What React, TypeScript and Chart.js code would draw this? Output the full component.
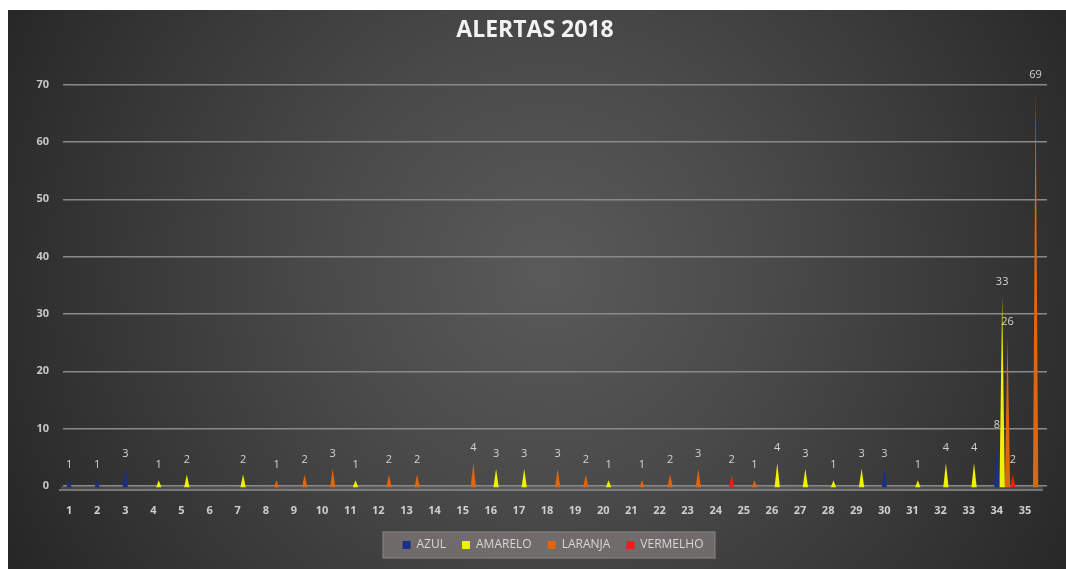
import React, { useEffect, useRef } from "react";
import { Chart, registerables } from "chart.js";

Chart.register(...registerables);

const categories = ["1","2","3","4","5","6","7","8","9","10","11","12","13","14","15","16","17","18","19","20","21","22","23","24","25","26","27","28","29","30","31","32","33","34","35"];

const azul = [1,1,3,null,null,null,null,null,null,null, null,null,null,null,null,null,null,null,null,null, null,null,null,null,null,null,null,null,null,3, null,null,null,8,null];
const amarelo = [null,null,null,1,2,null,2,null,null,null, 1,null,null,null,null,3,3,null,null,1, null,null,null,null,null,4,3,1,3,null, 1,4,4,33,null];
const laranja = [null,null,null,null,null,null,null,1,2,3, null,2,2,null,4,null,null,3,2,null, 1,2,3,null,1,null,null,null,null,null, null,null,null,26,69];
const vermelho = [null,null,null,null,null,null,null,null,null,null, null,null,null,null,null,null,null,null,null,null, null,null,null,2,null,null,null,null,null,null, null,null,null,2,null];

const seriesNames = ["AZUL", "AMARELO", "LARANJA", "VERMELHO"];
const seriesColors = ["#1b2f86", "#f2f200", "#e0650f", "#ee1c1c"];
const yTicks = [0, 10, 20, 30, 40, 50, 60, 70];

const FONT = "'Open Sans', 'Liberation Sans', sans-serif";
const LEGEND_SHIFT = 18;
const LEGEND_PAD = 16;
const LEGEND_FONT = 12;

const legendShiftPlugin = {
  id: "legendShiftPlugin",
  afterLayout(chart: any) {
    const lg = chart.legend;
    if (!lg) return;
    lg.left += LEGEND_SHIFT;
    lg.right += LEGEND_SHIFT;
  },
};

const bgPlugin = {
  id: "bgPlugin",
  beforeDraw(chart: any) {
    const { ctx, width, height } = chart;
    ctx.save();
    const cx = width * 0.51;
    const cy = height * 0.47;
    const g = ctx.createRadialGradient(cx, cy, 0, cx, cy, width * 0.6);
    g.addColorStop(0, "#5a5a5a");
    g.addColorStop(0.35, "#4a4a4a");
    g.addColorStop(0.7, "#363636");
    g.addColorStop(1, "#242424");
    ctx.fillStyle = g;
    ctx.fillRect(0, 0, width, height);
    const lg = chart.legend;
    if (lg && lg.lineWidths && lg.lineWidths.length) {
      const w = lg.lineWidths[0];
      const s = (lg.left + LEGEND_PAD + lg.right - w) / 2;
      const left = s - 20;
      const right = s + w - LEGEND_PAD + 12;
      const cyL = lg.top + LEGEND_PAD + LEGEND_FONT / 2;
      ctx.fillStyle = "rgba(118,112,112,0.9)";
      ctx.fillRect(left, cyL - 13.5, right - left, 27);
      ctx.strokeStyle = "rgba(150,145,145,0.6)";
      ctx.lineWidth = 1;
      ctx.strokeRect(left + 0.5, cyL - 13.5 + 0.5, right - left - 1, 26);
    }
    ctx.restore();
  },
};

const floorPlugin = {
  id: "floorPlugin",
  beforeDatasetsDraw(chart: any) {
    const { ctx, chartArea } = chart;
    const y0 = chart.scales.y.getPixelForValue(0);
    ctx.save();
    ctx.strokeStyle = "#8f8f8f";
    ctx.lineWidth = 1.5;
    ctx.beginPath();
    ctx.moveTo(chartArea.left - 4, y0 + 4);
    ctx.lineTo(chartArea.right - 4, y0 + 4);
    ctx.stroke();
    ctx.fillStyle = "rgba(120,120,120,0.35)";
    ctx.fillRect(chartArea.left - 2, y0, chartArea.right - chartArea.left - 2, 4);
    ctx.restore();
  },
};

const conePlugin = {
  id: "conePlugin",
  beforeDatasetDraw(chart: any, args: any) {
    const { ctx } = chart;
    const meta = args.meta;
    const ds = chart.data.datasets[args.index];
    ctx.save();
    meta.data.forEach((el: any, i: number) => {
      const v = ds.data[i];
      if (v == null || v === 0) return;
      const p = el.getProps(["x", "y", "base", "width"], true);
      const w = p.width;
      ctx.beginPath();
      ctx.moveTo(p.x - w / 2, p.base + 2);
      ctx.lineTo(p.x, p.y);
      ctx.lineTo(p.x + w / 2, p.base + 2);
      ctx.closePath();
      ctx.fillStyle = ds.backgroundColor;
      ctx.fill();
    });
    ctx.restore();
    return false;
  },
};

const labelPlugin = {
  id: "labelPlugin",
  afterDatasetsDraw(chart: any) {
    const { ctx } = chart;
    ctx.save();
    ctx.fillStyle = "#d4d4d4";
    ctx.font = `11px ${FONT}`;
    ctx.textAlign = "center";
    ctx.textBaseline = "middle";
    chart.data.datasets.forEach((ds: any, di: number) => {
      const meta = chart.getDatasetMeta(di);
      meta.data.forEach((el: any, i: number) => {
        const v = ds.data[i];
        if (v == null || v === 0) return;
        ctx.fillText(String(v), el.x, el.y - 15);
      });
    });
    ctx.restore();
  },
};

export default function App() {
  const ref = useRef<HTMLCanvasElement | null>(null);

  useEffect(() => {
    if (!ref.current) return;
    const data = [azul, amarelo, laranja, vermelho];
    const chart = new Chart(ref.current, {
      type: "bar",
      data: {
        labels: categories,
        datasets: seriesNames.map((name, k) => ({
          label: name,
          data: data[k] as any,
          backgroundColor: seriesColors[k],
          borderWidth: 0,
          categoryPercentage: 0.76,
          barPercentage: 1,
        })),
      },
      options: {
        animation: false,
        responsive: false,
        events: [],
        layout: { padding: { left: 15, right: 19, top: 0, bottom: 8 } },
        plugins: {
          title: {
            display: true,
            text: "ALERTAS 2018",
            color: "#f2f2f2",
            font: { family: FONT, size: 23, weight: "bold" },
            padding: { top: 7, bottom: 40 },
          },
          legend: {
            position: "bottom",
            labels: {
              color: "#d6d6d6",
              font: { family: FONT, size: LEGEND_FONT },
              boxWidth: 8,
              boxHeight: 8,
              padding: LEGEND_PAD,
            },
          },
          tooltip: { enabled: false },
        },
        scales: {
          x: {
            grid: { display: false },
            border: { display: false },
            ticks: {
              color: "#cfcfcf",
              font: { family: FONT, size: 11, weight: "bold" },
              labelOffset: -8,
              maxRotation: 0,
              autoSkip: false,
              padding: 10,
            },
            afterFit: (s: any) => { s.height = 37; },
          },
          y: {
            min: 0,
            max: 70,
            afterBuildTicks: (s: any) => { s.ticks = yTicks.map((v) => ({ value: v })); },
            ticks: {
              color: "#c8c8c8",
              font: { family: FONT, size: 11, weight: "bold" },
              padding: 14,
            },
            grid: { color: "#8a8a8a", lineWidth: 1.5, drawTicks: false },
            border: { display: false },
            afterFit: (s: any) => { s.width = 40; },
          },
        },
      },
      plugins: [legendShiftPlugin, bgPlugin, floorPlugin, conePlugin, labelPlugin],
    });
    return () => chart.destroy();
  }, []);

  return (
    <div style={{ position: "absolute", left: 8, top: 10, width: 1058, height: 559 }}>
      <canvas ref={ref} width={1058} height={559} style={{ display: "block" }} />
    </div>
  );
}
